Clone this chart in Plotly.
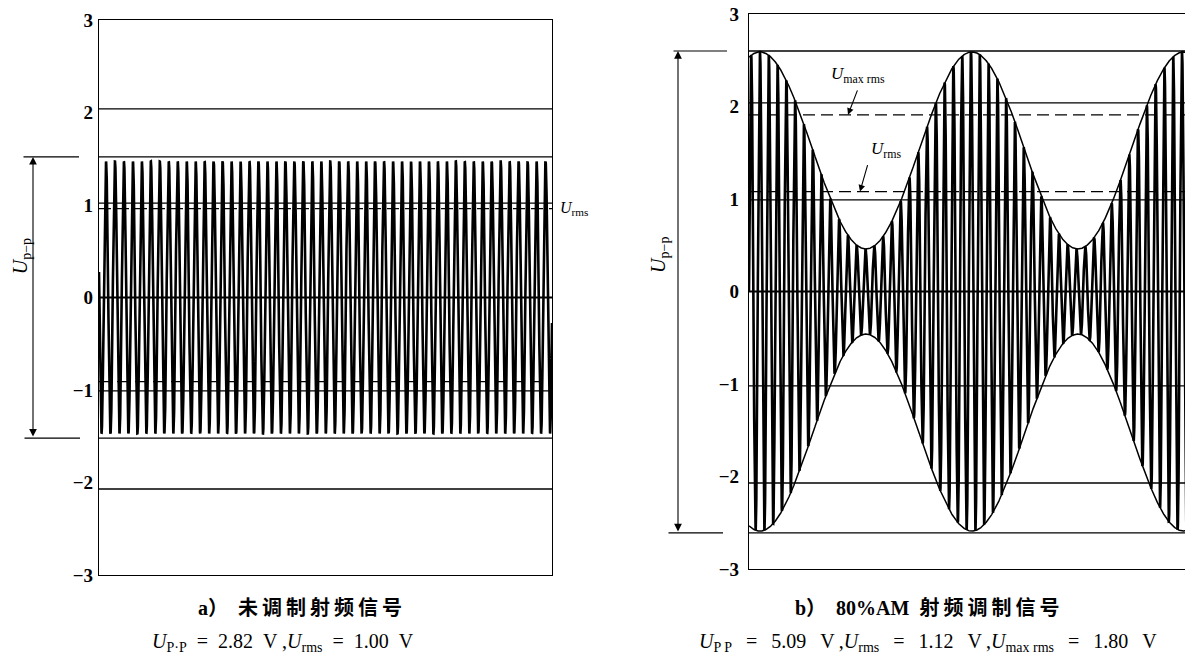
import numpy as np
import plotly.graph_objects as go

# ---------------- data ----------------
ytick_vals = [-3, -2, -1, 0, 1, 2, 3]
ytick_text = ["\u22123", "\u22122", "\u22121", "0", "1", "2", "3"]

# panel a) unmodulated RF carrier
carrier_cycles_a = [50.5]        # carrier periods across the frame
carrier_amp_a = [1.47]           # crest value of the drawn carrier
carrier_first_crest_a = [0.78]   # position (periods) of first crest
solid_lines_a = [2.04, 1.52, 1.02, -1.01, -1.52, -2.07]
zero_lines = [0.0]
dashed_lines_a = [0.96, -0.91]   # U_rms
upp_a = [1.52, -1.52]            # U_p-p span

# panel b) 80 % AM RF signal
carrier_cycles_b = [50.5]
carrier_first_crest_b = [1.25]
envelope_max_b = [2.59]
envelope_min_b = [0.46]
mod_period_b = [24.1]            # carrier periods per modulation period
solid_lines_b = [2.60, 2.04, 0.99, -1.02, -2.07, -2.61]
dashed_lines_b = [1.91, 1.08]    # U_max rms, U_rms
upp_b = [2.60, -2.61]

TS = "\u2009"
EN = "\u2002"
caption_a = "<b>a）" + EN + TS.join("未调制射频信号") + "</b>"
caption_b = "<b>b）" + EN + "80%AM" + EN + TS.join("射频调制信号") + "</b>"
formula_a = ("<i>U</i><sub>P·P</sub>" + EN + "=" + EN + "2.82" + EN + "V ,"
             "<i>U</i><sub>rms</sub>" + EN + "=" + EN + "1.00" + EN + "V")
SP = EN + TS
formula_b = ("<i>U</i><sub>P P</sub>" + SP + "=" + SP + "5.09" + SP + "V" + TS + ","
             "<i>U</i><sub>rms</sub>" + SP + "=" + SP + "1.12" + SP + "V" + TS + ","
             "<i>U</i><sub>max rms</sub>" + SP + "=" + SP + "1.80" + SP + "V")

# ---------------- build signals ----------------
N = 6000
ta = np.linspace(0, carrier_cycles_a[0], N)
ya = carrier_amp_a[0] * np.cos(2 * np.pi * (ta - carrier_first_crest_a[0]))

tb = np.linspace(0, carrier_cycles_b[0], N)
mean_b = (envelope_max_b[0] + envelope_min_b[0]) / 2
swing_b = (envelope_max_b[0] - envelope_min_b[0]) / 2
env_b = mean_b + swing_b * np.cos(2 * np.pi * (tb - carrier_first_crest_b[0]) / mod_period_b[0])
yb = env_b * np.cos(2 * np.pi * (tb - carrier_first_crest_b[0]))

SERIF = "Liberation Serif, Times New Roman, serif"
CJK = "Liberation Serif, Noto Sans CJK SC, sans-serif"

fig = go.Figure()
fig.add_trace(go.Scatter(x=ta, y=ya, mode="lines", line=dict(color="black", width=2.6),
                         xaxis="x", yaxis="y", hoverinfo="skip", showlegend=False))
fig.add_trace(go.Scatter(x=tb, y=yb, mode="lines", line=dict(color="black", width=2.6),
                         xaxis="x2", yaxis="y2", hoverinfo="skip", showlegend=False))
fig.add_trace(go.Scatter(x=tb, y=env_b, mode="lines", line=dict(color="black", width=1.5),
                         xaxis="x2", yaxis="y2", hoverinfo="skip", showlegend=False))
fig.add_trace(go.Scatter(x=tb, y=-env_b, mode="lines", line=dict(color="black", width=1.5),
                         xaxis="x2", yaxis="y2", hoverinfo="skip", showlegend=False))

W, H = 1193, 670
OFF = 8  # the page body margin shifts the figure by 8 px


def px(p):
    return (p - OFF) / W


def py(p):
    return 1 - (p - OFF) / H


# frame geometry (target page pixels)
ax_l, ax_r, ay_t, ay_b = 99, 552, 20, 575
bx_l, bx_r, by_t, by_b = 749, 1193, 14, 569

shapes = []


def hlines(vals, xa, ya_, dash="solid", width=1.3):
    for v in vals:
        shapes.append(dict(type="line", xref=f"{xa} domain", x0=0, x1=1, yref=ya_, y0=v, y1=v,
                           line=dict(color="black", width=width, dash=dash), layer="above"))


hlines(solid_lines_a, "x", "y")
hlines(zero_lines, "x", "y", width=2.2)
hlines(dashed_lines_a, "x", "y", dash="12px,6px")
hlines(solid_lines_b, "x2", "y2")
hlines(zero_lines, "x2", "y2", width=2.2)
hlines(dashed_lines_b, "x2", "y2", dash="12px,6px")

annotations = []


def upp_marker(xa, ya_, vals, x_arrow, x_tick_top, x_tick_bot, x_label, y_label):
    annotations.append(dict(xref=f"{xa} domain", yref=ya_, x=x_arrow, y=vals[0],
                            axref=f"{xa} domain", ayref=ya_, ax=x_arrow, ay=vals[1],
                            text="", showarrow=True, arrowhead=2, arrowside="end+start",
                            arrowsize=1.4, arrowwidth=1.1, arrowcolor="black",
                            standoff=0, startstandoff=0))
    for v, (x0, x1) in zip(vals, (x_tick_top, x_tick_bot)):
        annotations.append(dict(xref=f"{xa} domain", yref=ya_, x=x1, y=v,
                                axref=f"{xa} domain", ayref=ya_, ax=x0, ay=v,
                                text="", showarrow=True, arrowhead=0, arrowwidth=1.2,
                                arrowcolor="black", standoff=0, startstandoff=0))
    annotations.append(dict(xref=f"{xa} domain", yref=ya_, x=x_label, y=y_label,
                            text="<i>U</i><sub>p\u2212p</sub>", showarrow=False, textangle=-90,
                            font=dict(family=SERIF, size=20, color="black")))


wa = ax_r - ax_l
wb = bx_r - bx_l
upp_marker("x", "y", upp_a, (33 - ax_l) / wa,
           ((22 - ax_l) / wa, (79 - ax_l) / wa), ((23 - ax_l) / wa, (80 - ax_l) / wa),
           (7 - ax_l) / wa, 0.44)
upp_marker("x2", "y2", upp_b, (678 - bx_l) / wb,
           ((672 - bx_l) / wb, (727 - bx_l) / wb), ((667 - bx_l) / wb, (723 - bx_l) / wb),
           (645 - bx_l) / wb, 0.39)

cyc_b = carrier_cycles_b[0] / wb  # carrier periods per pixel in panel b
annotations.append(dict(xref="x domain", yref="y", x=1.0, y=dashed_lines_a[0], xanchor="left",
                        xshift=6, text="<i>U</i><sub>rms</sub>", showarrow=False,
                        font=dict(family=SERIF, size=16, color="black")))
annotations.append(dict(xref="x2", yref="y2", x=(848 - bx_l) * cyc_b, y=dashed_lines_b[0],
                        ax=10, ay=-26, text="", showarrow=True, arrowhead=2, arrowsize=1.2,
                        arrowwidth=1.1, arrowcolor="black", standoff=0))
annotations.append(dict(xref="x2", yref="y2", x=(858 - bx_l) * cyc_b, y=2.34,
                        text="<i>U</i><sub>max rms</sub>", showarrow=False,
                        font=dict(family=SERIF, size=17, color="black")))
annotations.append(dict(xref="x2", yref="y2", x=(860 - bx_l) * cyc_b, y=dashed_lines_b[1],
                        ax=8, ay=-28, text="", showarrow=True, arrowhead=2, arrowsize=1.2,
                        arrowwidth=1.1, arrowcolor="black", standoff=0))
annotations.append(dict(xref="x2", yref="y2", x=(886 - bx_l) * cyc_b, y=1.53,
                        text="<i>U</i><sub>rms</sub>", showarrow=False,
                        font=dict(family=SERIF, size=17, color="black")))

for txt, x, y, fam, sz in [(caption_a, 300, 608, CJK, 20), (formula_a, 283, 642, SERIF, 20),
                           (caption_b, 927, 608, CJK, 20), (formula_b, 928, 642, SERIF, 20)]:
    annotations.append(dict(xref="paper", yref="paper", x=px(x), y=py(y), text=txt,
                            showarrow=False, xanchor="center", yanchor="middle",
                            font=dict(family=fam, size=sz, color="black")))

axis_common = dict(showgrid=False, zeroline=False, showline=True, linecolor="black",
                   linewidth=1.3, ticks="", automargin=False)
tickfont = dict(family=SERIF, size=19, color="black", weight="bold")
fig.update_layout(
    template="none",
    width=W, height=H,
    margin=dict(l=0, r=0, t=0, b=0, pad=0, autoexpand=False),
    paper_bgcolor="white", plot_bgcolor="white",
    showlegend=False,
    xaxis=dict(domain=[px(ax_l), px(ax_r)], range=[0, carrier_cycles_a[0]], showticklabels=False,
               mirror=True, **axis_common),
    yaxis=dict(domain=[py(ay_b), py(ay_t)], range=[-3, 3], tickvals=ytick_vals,
               ticktext=ytick_text, mirror=True, ticklabelstandoff=1, tickfont=tickfont,
               ticklabeloverflow="allow", **axis_common),
    xaxis2=dict(domain=[px(bx_l), px(bx_r)], range=[0, carrier_cycles_b[0]], showticklabels=False,
                mirror=True, anchor="y2", **axis_common),
    yaxis2=dict(domain=[py(by_b), py(by_t)], range=[-3, 3], tickvals=ytick_vals,
                ticktext=ytick_text, mirror=False, anchor="x2", ticklabelstandoff=5,
                tickfont=tickfont, ticklabeloverflow="allow", **axis_common),
    shapes=shapes,
    annotations=annotations,
)

fig.write_html("out.html")
